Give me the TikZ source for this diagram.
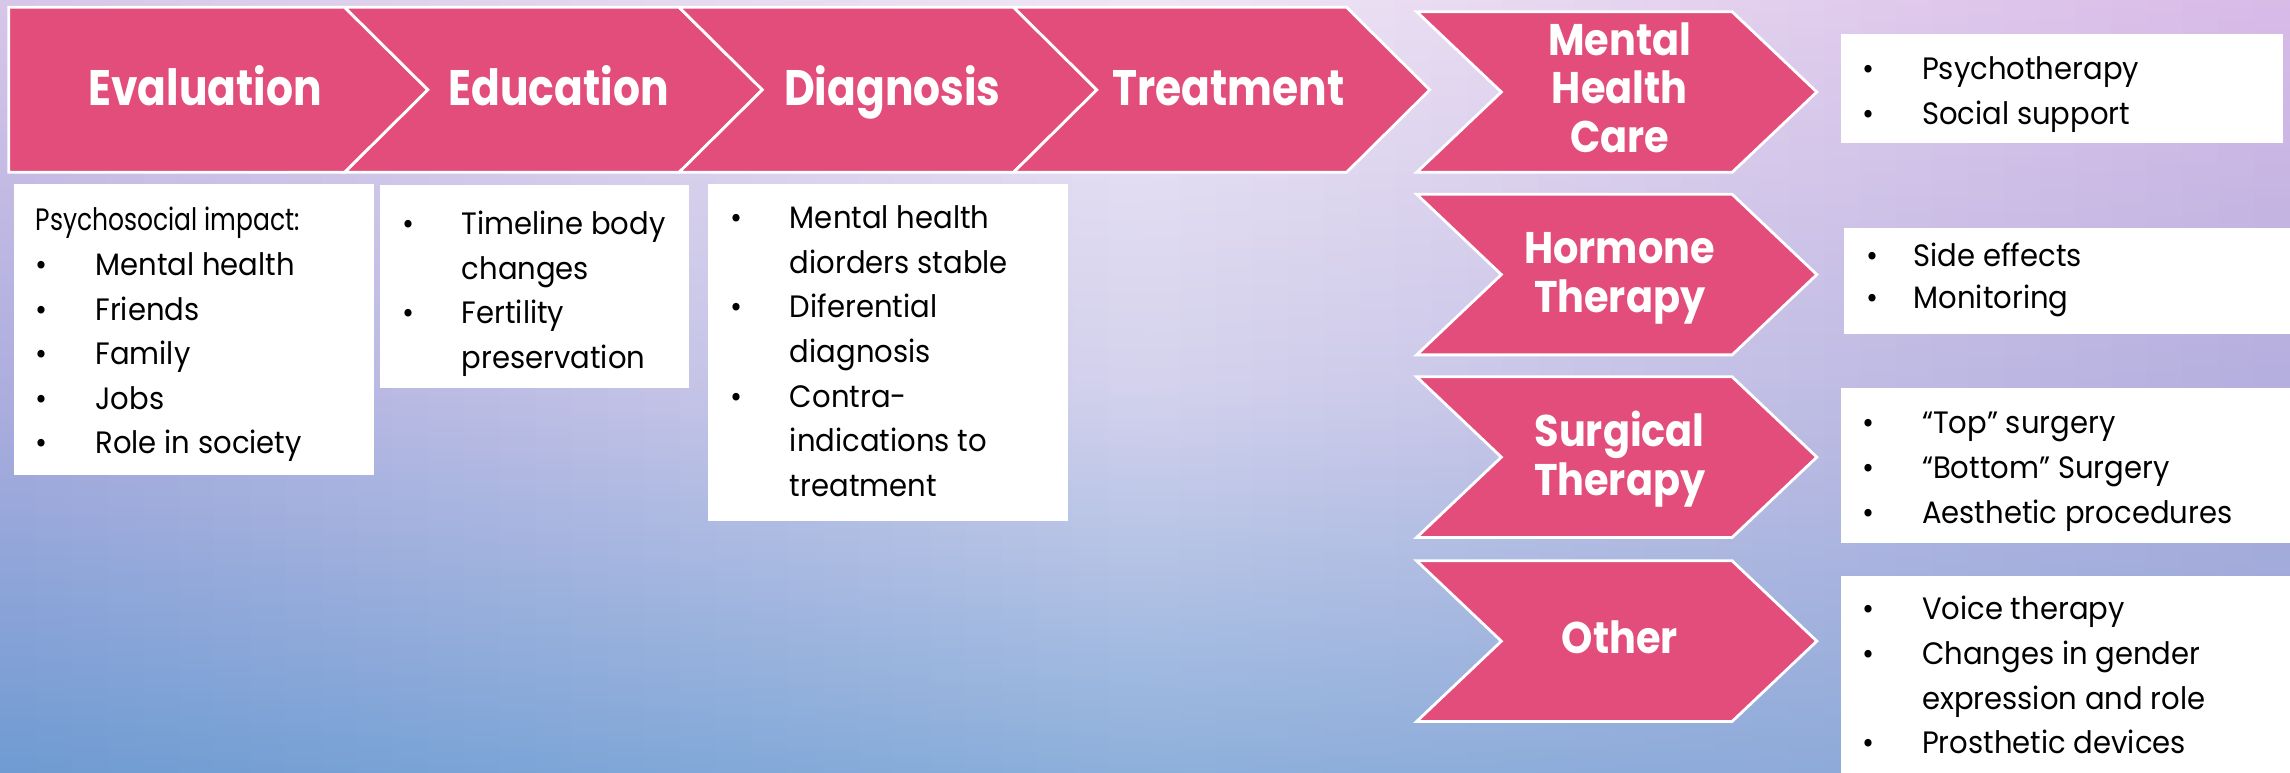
\documentclass[tikz,border=0pt]{standalone}
\usepackage{fontspec}
\setmainfont{Poppins}[FakeStretch=0.94]
\newfontfamily\headfont{Poppins}[FakeStretch=0.85]
\newfontfamily\sidefont{Poppins}[FakeStretch=0.9]
\usetikzlibrary{fit}

% palette
\definecolor{chevfill}{HTML}{E24D7B}
\definecolor{bgTL}{HTML}{D6C6E8}
\definecolor{bgTC}{HTML}{EFE7F5}
\definecolor{bgTR}{HTML}{D8BAE7}
\definecolor{bgML}{HTML}{ADADDE}
\definecolor{bgMC}{HTML}{D4D2ED}
\definecolor{bgMR}{HTML}{B3AEDE}
\definecolor{bgBL}{HTML}{6E9BD2}
\definecolor{bgBC}{HTML}{8DB0DB}
\definecolor{bgBR}{HTML}{8EA6D7}

\newlength\bulletgap
\setlength\bulletgap{17pt}
\newcommand\bl{\makebox[\bulletgap][l]{•}}
\newcommand\ind{\hspace*{\bulletgap}}

\tikzset{
  chev/.style={fill=chevfill, draw=white, line width=0.8pt, line join=miter},
  wbox/.style={fill=white, draw=none, inner sep=0pt, outer sep=0pt},
  headlabel/.style={text=white, inner sep=0pt, anchor=base,
    font=\headfont\bfseries\fontsize{14.2}{17}\selectfont},
  sidelabel/.style={text=white, inner sep=0pt, anchor=base,
    font=\sidefont\bfseries\fontsize{12.6}{13.9}\selectfont},
  bodytext/.style={text=black, inner sep=0pt, anchor=base west,
    font=\fontsize{8.8}{12.7}\selectfont},
}

\begin{document}
\begin{tikzpicture}[x=0.14605mm, y=-0.14605mm]
\useasboundingbox (0,0) rectangle (1568,529);

% soft lavender-to-blue backdrop, built from vertical strips
\foreach \i in {0,...,63}{
  \pgfmathsetmacro\bgt{(\i+0.5)/64}
  \pgfmathsetmacro\bgxa{\i*24.5}
  \pgfmathsetmacro\bgxb{(\i+1)*24.5+0.8}
  \ifdim\bgt pt<0.5pt
    \pgfmathsetmacro\bgs{200*\bgt}
    \colorlet{bgct}{bgTC!\bgs!bgTL}
    \colorlet{bgcm}{bgMC!\bgs!bgML}
    \colorlet{bgcb}{bgBC!\bgs!bgBL}
  \else
    \pgfmathsetmacro\bgs{200*\bgt-100}
    \colorlet{bgct}{bgTR!\bgs!bgTC}
    \colorlet{bgcm}{bgMR!\bgs!bgMC}
    \colorlet{bgcb}{bgBR!\bgs!bgBC}
  \fi
  \shade[top color=bgct, bottom color=bgcb, middle color=bgcm]
    (\bgxa,0) rectangle (\bgxb,529);
}

% white text panels
\node[wbox, fit={(9.6,126) (256,325)}] (boxEval) {};
\node[wbox, fit={(260,127) (472,266)}] (boxEdu) {};
\node[wbox, fit={(485,126) (731,357)}] (boxDiag) {};
\node[wbox, fit={(1260.5,23.3) (1563,98)}] (boxMental) {};
\node[wbox, fit={(1262.6,156) (1568,229)}] (boxHormone) {};
\node[wbox, fit={(1260.5,266) (1568,372)}] (boxSurgical) {};
\node[wbox, fit={(1260.5,394.4) (1568,529)}] (boxOther) {};

% process chevrons along the top
\draw[chev] (6,5) -- (236,5) -- (293,61.5) -- (236,118) -- (6,118) -- cycle;
\draw[chev] (236,5) -- (465,5) -- (522,61.5) -- (465,118) -- (236,118) -- (293,61.5) -- cycle;
\draw[chev] (465,5) -- (694,5) -- (751,61.5) -- (694,118) -- (465,118) -- (522,61.5) -- cycle;
\draw[chev] (694,5) -- (922,5) -- (979,61.5) -- (922,118) -- (694,118) -- (751,61.5) -- cycle;

% treatment branches
\foreach \tp in {8,133,258,384}{
  \draw[chev] (970,\tp) -- (1186,\tp) -- (1244,{\tp+55}) -- (1186,{\tp+110})
    -- (970,{\tp+110}) -- (1028,{\tp+55}) -- cycle;
}

% chevron labels
\node[headlabel] (evaluation) at (140.5,72) {Evaluation};
\node[headlabel] (education) at (382.5,72) {Education};
\node[headlabel] (diagnosis) at (611,72) {Diagnosis};
\node[headlabel] (treatment) at (841,72) {Treatment};

\node[sidelabel] (mental) at (1109,37.7) {\begin{tabular}[t]{@{}c@{}}Mental\\Health\\Care\end{tabular}};
\node[sidelabel] (hormone) at (1109,180.3) {\begin{tabular}[t]{@{}c@{}}Hormone\\Therapy\end{tabular}};
\node[sidelabel] (surgical) at (1109,305.8) {\begin{tabular}[t]{@{}c@{}}Surgical\\Therapy\end{tabular}};
\node[sidelabel] (other) at (1109,447.3) {Other};

% panel contents
\node[bodytext] (evalText) at (24,158) {\begin{tabular}[t]{@{}l@{}}
\scalebox{0.86}[1]{Psychosocial impact:}\\
\bl Mental health\\
\bl Friends\\
\bl Family\\
\bl Jobs\\
\bl Role in society
\end{tabular}};

\node[bodytext] (eduText) at (274.8,160.5) {\begin{tabular}[t]{@{}l@{}}
\bl Timeline body\\
\ind changes\\
\bl Fertility\\
\ind preservation
\end{tabular}};

\node[bodytext] (diagText) at (499.5,156.5) {\begin{tabular}[t]{@{}l@{}}
\bl Mental health\\
\ind diorders stable\\
\bl Diferential\\
\ind diagnosis\\
\bl Contra-\\
\ind indications to\\
\ind treatment
\end{tabular}};

\node[bodytext] (mentalText) at (1274.7,54.5) {\begin{tabular}[t]{@{}l@{}}
\bl Psychotherapy\\
\bl Social support
\end{tabular}};

\node[bodytext, font=\fontsize{8.8}{11.8}\selectfont] (hormoneText) at (1277.8,182.6) {\setlength\bulletgap{13.3pt}\begin{tabular}[t]{@{}l@{}}
\bl Side effects\\
\bl Monitoring
\end{tabular}};

\node[bodytext] (surgicalText) at (1274.7,297) {\begin{tabular}[t]{@{}l@{}}
\bl “Top” surgery\\
\bl “Bottom” Surgery\\
\bl Aesthetic procedures
\end{tabular}};

\node[bodytext] (otherText) at (1274.7,424.5) {\begin{tabular}[t]{@{}l@{}}
\bl Voice therapy\\
\bl Changes in gender\\
\ind expression and role\\
\bl Prosthetic devices
\end{tabular}};
\end{tikzpicture}
\end{document}
